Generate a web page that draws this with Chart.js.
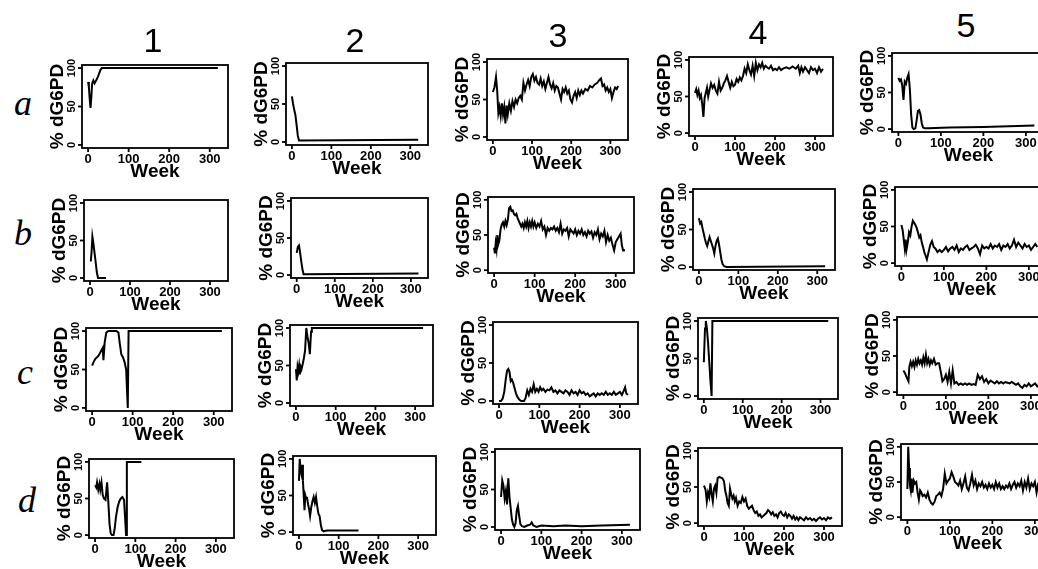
<!DOCTYPE html>
<html>
<head>
<meta charset="utf-8">
<script src="https://cdn.jsdelivr.net/npm/chart.js@4/dist/chart.umd.min.js"></script>
<style>
  html, body { margin: 0; padding: 0; background: #fff; }
  #page { position: relative; width: 1038px; height: 569px; overflow: hidden; background: #fff; }
  #page canvas { position: absolute; }
  .colhead { position: absolute; transform: translate(-50%, -50%); font: 34px "Liberation Sans", Arial, sans-serif; color: #000; }
  .rowhead { position: absolute; transform: translate(-50%, -50%); font: italic 36px "Liberation Serif", "Times New Roman", serif; color: #000; }
</style>
</head>
<body>
<div id="page"></div>
<script>
// tick labels shared by every panel
const xTicks = [0, 100, 200, 300];
const yTicks = [0, 50, 100];
const columns = ["1", "2", "3", "4", "5"];
const rows = ["a", "b", "c", "d"];

// % dG6PD by week, one pair of arrays per panel
const a1Weeks = [0, 2, 4, 6, 8, 10, 13, 16, 19, 22, 25, 28, 31, 34, 38, 320];
const a1Values = [82, 75, 60, 48, 62, 80, 84, 80, 83, 86, 90, 94, 98, 100, 100, 100];
const a2Weeks = [0, 3, 6, 9, 12, 15, 18, 22, 320];
const a2Values = [60, 50, 42, 35, 22, 8, 2, 2, 3];
const a3Weeks = [0, 4, 8, 11, 14, 17, 20, 23, 26, 29, 32, 35, 38, 42, 46, 50, 54, 58, 62, 66, 70, 74, 78, 82, 86, 90, 94, 98, 102, 106, 110, 114, 118, 122, 126, 130, 134, 138, 142, 146, 150, 154, 158, 162, 166, 170, 174, 178, 182, 186, 190, 194, 198, 202, 206, 210, 214, 218, 222, 226, 230, 236, 242, 248, 254, 260, 266, 272, 276, 280, 284, 288, 292, 296, 300, 304, 308, 312, 316, 320];
const a3Values = [60, 66, 80, 62, 32, 40, 28, 45, 30, 40, 18, 42, 30, 45, 35, 48, 40, 50, 45, 52, 55, 50, 72, 62, 70, 76, 68, 80, 84, 75, 80, 72, 70, 78, 68, 74, 64, 72, 80, 70, 65, 72, 62, 68, 66, 58, 50, 64, 60, 66, 58, 62, 50, 46, 55, 60, 52, 62, 56, 62, 58, 64, 62, 68, 66, 70, 72, 76, 78, 68, 70, 62, 66, 60, 64, 52, 60, 66, 64, 68];
const a4Weeks = [0, 3, 6, 9, 12, 15, 18, 21, 24, 27, 30, 33, 36, 40, 44, 48, 52, 56, 60, 64, 68, 72, 76, 80, 84, 88, 92, 96, 100, 104, 108, 112, 116, 120, 124, 128, 132, 136, 140, 144, 148, 152, 156, 160, 164, 168, 172, 176, 180, 185, 190, 195, 200, 205, 210, 215, 220, 228, 236, 244, 252, 258, 262, 266, 270, 275, 280, 285, 290, 295, 300, 305, 310, 315, 320];
const a4Values = [55, 60, 52, 58, 48, 52, 40, 22, 48, 55, 62, 50, 58, 68, 62, 66, 58, 54, 70, 58, 62, 68, 72, 78, 70, 62, 70, 64, 66, 74, 70, 76, 72, 78, 88, 82, 94, 86, 80, 92, 78, 96, 86, 94, 90, 96, 88, 92, 90, 88, 92, 86, 88, 86, 90, 86, 88, 90, 88, 91, 88, 92, 82, 90, 84, 90, 86, 82, 90, 86, 88, 82, 90, 84, 88];
const a5Weeks = [0, 3, 6, 9, 12, 15, 18, 21, 24, 27, 30, 33, 36, 40, 43, 46, 49, 52, 55, 58, 62, 70, 120, 200, 260, 320];
const a5Values = [70, 66, 68, 60, 40, 65, 62, 70, 75, 55, 20, 2, 0, 1, 12, 25, 26, 20, 8, 2, 1, 1, 2, 3, 4, 5];

const b1Weeks = [2, 4, 6, 8, 11, 14, 17, 20, 40];
const b1Values = [22, 35, 55, 48, 35, 22, 8, 0, 0];
const b2Weeks = [0, 3, 6, 9, 12, 15, 18, 22, 320];
const b2Values = [30, 38, 40, 30, 18, 8, 1, 1, 2];
const b3Weeks = [0, 2, 4, 6, 8, 10, 13, 16, 19, 22, 25, 28, 31, 34, 37, 40, 43, 46, 49, 52, 55, 58, 61, 64, 67, 70, 73, 76, 79, 82, 85, 88, 91, 94, 97, 100, 104, 108, 112, 116, 120, 124, 128, 132, 136, 140, 144, 148, 152, 156, 160, 164, 168, 172, 176, 180, 184, 188, 192, 196, 200, 204, 208, 212, 216, 220, 224, 228, 232, 236, 240, 244, 248, 252, 256, 260, 264, 268, 272, 276, 280, 284, 288, 292, 296, 300, 304, 308, 312, 315, 318, 320];
const b3Values = [32, 24, 38, 30, 50, 36, 42, 58, 65, 68, 62, 70, 64, 72, 88, 90, 84, 85, 80, 78, 80, 74, 70, 66, 62, 66, 60, 68, 62, 70, 60, 68, 62, 70, 62, 68, 60, 66, 62, 70, 58, 62, 50, 60, 56, 60, 58, 62, 56, 60, 54, 66, 52, 58, 56, 60, 48, 58, 55, 52, 58, 50, 56, 52, 58, 50, 54, 48, 56, 52, 55, 46, 54, 50, 58, 44, 52, 48, 56, 40, 50, 42, 46, 36, 28, 40, 44, 48, 52, 36, 28, 30];
const b4Weeks = [0, 3, 6, 9, 12, 15, 18, 21, 24, 27, 30, 33, 36, 39, 42, 45, 48, 51, 54, 57, 60, 64, 70, 320];
const b4Values = [65, 58, 60, 52, 45, 38, 32, 28, 34, 40, 35, 30, 25, 18, 28, 35, 38, 30, 20, 10, 4, 1, 0, 1];
const b5Weeks = [0, 3, 6, 8, 10, 12, 15, 18, 21, 24, 27, 30, 33, 36, 39, 42, 45, 48, 51, 54, 57, 60, 64, 68, 72, 76, 80, 85, 90, 95, 100, 105, 110, 115, 120, 125, 130, 135, 140, 145, 150, 155, 160, 165, 170, 175, 180, 185, 190, 195, 200, 205, 210, 215, 220, 225, 230, 235, 240, 245, 250, 255, 260, 265, 270, 275, 280, 285, 290, 295, 300, 305, 310, 315, 320];
const b5Values = [52, 45, 30, 20, 32, 18, 28, 42, 38, 50, 58, 55, 52, 48, 42, 35, 38, 28, 22, 15, 10, 5, 15, 25, 30, 22, 20, 15, 18, 15, 18, 22, 16, 20, 22, 18, 24, 15, 20, 18, 22, 24, 18, 20, 22, 25, 20, 12, 24, 20, 22, 20, 26, 20, 24, 22, 26, 18, 24, 22, 26, 20, 24, 32, 22, 28, 24, 20, 26, 22, 24, 18, 22, 26, 22];

const c1Weeks = [0, 4, 8, 12, 16, 20, 23, 26, 28, 31, 35, 40, 50, 60, 65, 68, 72, 76, 80, 84, 88, 90, 320];
const c1Values = [55, 60, 64, 66, 68, 72, 75, 78, 62, 85, 98, 100, 100, 100, 98, 85, 70, 66, 60, 50, 0, 100, 100];
const c2Weeks = [0, 2, 4, 6, 8, 10, 12, 14, 17, 20, 23, 26, 29, 32, 35, 38, 40, 320];
const c2Values = [45, 30, 48, 42, 50, 38, 48, 45, 52, 60, 70, 100, 88, 80, 65, 95, 100, 100];
const c3Weeks = [0, 5, 9, 13, 17, 20, 23, 26, 29, 32, 35, 38, 42, 46, 50, 55, 62, 66, 70, 74, 78, 82, 86, 90, 94, 98, 102, 106, 110, 115, 120, 125, 130, 135, 140, 145, 150, 155, 160, 165, 170, 175, 180, 185, 190, 195, 200, 205, 210, 215, 220, 225, 230, 235, 240, 245, 250, 255, 260, 265, 270, 275, 280, 285, 290, 295, 300, 305, 310, 313, 316, 320];
const c3Values = [0, 0, 3, 12, 30, 40, 42, 38, 26, 28, 24, 18, 10, 5, 2, 0, 0, 4, 14, 8, 16, 12, 22, 12, 16, 12, 18, 14, 16, 12, 15, 14, 18, 12, 14, 10, 14, 12, 10, 14, 12, 8, 14, 10, 12, 8, 14, 10, 12, 8, 10, 6, 8, 10, 6, 10, 8, 10, 8, 12, 8, 10, 8, 12, 8, 10, 12, 8, 14, 18, 10, 8];
const c4Weeks = [0, 3, 5, 8, 11, 14, 17, 20, 22, 320];
const c4Values = [45, 90, 100, 90, 70, 45, 20, 0, 100, 100];
const c5Weeks = [0, 4, 8, 12, 14, 17, 20, 23, 26, 29, 32, 35, 38, 41, 44, 47, 50, 53, 56, 59, 62, 65, 68, 72, 76, 80, 84, 88, 92, 96, 100, 104, 108, 112, 116, 120, 125, 130, 135, 140, 145, 150, 155, 160, 165, 170, 175, 180, 185, 190, 195, 200, 205, 210, 215, 220, 225, 230, 235, 240, 245, 250, 255, 260, 265, 270, 275, 280, 285, 290, 295, 300, 305, 310, 315, 320];
const c5Values = [30, 26, 20, 15, 35, 42, 36, 42, 35, 44, 38, 46, 40, 44, 38, 48, 40, 52, 40, 46, 38, 44, 40, 46, 38, 40, 40, 28, 15, 18, 24, 14, 28, 12, 30, 12, 14, 10, 12, 10, 12, 10, 12, 10, 11, 10, 24, 18, 22, 14, 18, 12, 16, 14, 12, 15, 12, 14, 12, 14, 13, 12, 14, 12, 10, 12, 8, 6, 10, 8, 12, 8, 10, 12, 8, 10];

const d1Weeks = [0, 3, 5, 8, 11, 13, 16, 19, 22, 26, 30, 33, 36, 39, 42, 46, 49, 52, 56, 60, 64, 68, 72, 75, 77, 79, 115];
const d1Values = [68, 65, 72, 62, 70, 62, 72, 55, 50, 48, 72, 45, 15, 2, 0, 0, 10, 25, 38, 46, 50, 52, 48, 20, 0, 100, 100];
const d2Weeks = [0, 2, 4, 6, 8, 10, 12, 14, 16, 18, 20, 23, 26, 28, 31, 34, 37, 40, 43, 46, 49, 52, 55, 58, 62, 70, 150];
const d2Values = [70, 100, 85, 80, 92, 70, 50, 30, 50, 46, 48, 38, 30, 22, 34, 42, 48, 40, 48, 35, 25, 22, 10, 3, 1, 2, 2];
const d3Weeks = [0, 3, 6, 9, 12, 15, 18, 21, 24, 27, 30, 33, 36, 39, 42, 45, 48, 52, 58, 65, 72, 76, 80, 88, 100, 130, 160, 200, 250, 320];
const d3Values = [40, 62, 55, 38, 48, 30, 65, 40, 25, 10, 3, 0, 5, 22, 28, 15, 4, 1, 0, 2, 3, 6, 2, 0, 2, 1, 2, 1, 2, 3];
const d4Weeks = [0, 4, 7, 10, 13, 16, 19, 22, 25, 28, 31, 34, 38, 42, 46, 50, 53, 56, 59, 62, 65, 68, 71, 74, 77, 80, 84, 88, 92, 96, 100, 104, 108, 112, 116, 120, 124, 128, 132, 136, 140, 144, 148, 152, 156, 160, 164, 168, 172, 176, 180, 184, 188, 192, 196, 200, 204, 208, 212, 216, 220, 224, 228, 232, 236, 240, 245, 250, 255, 260, 265, 270, 275, 280, 285, 290, 295, 300, 305, 310, 315, 320];
const d4Values = [52, 46, 30, 42, 36, 55, 40, 30, 48, 52, 42, 62, 64, 63, 62, 58, 45, 38, 28, 24, 48, 40, 34, 38, 30, 35, 24, 30, 28, 36, 30, 34, 24, 20, 22, 24, 18, 14, 16, 10, 12, 8, 10, 12, 14, 18, 16, 12, 15, 10, 12, 8, 14, 16, 12, 10, 14, 8, 12, 10, 6, 10, 5, 8, 4, 8, 6, 4, 8, 5, 7, 4, 6, 3, 6, 8, 5, 7, 4, 8, 6, 8];
const d5Weeks = [0, 2, 4, 6, 8, 10, 12, 15, 18, 21, 24, 27, 30, 33, 36, 40, 44, 48, 52, 56, 60, 64, 68, 72, 76, 80, 84, 88, 92, 96, 100, 104, 108, 112, 116, 120, 124, 128, 132, 136, 140, 144, 148, 152, 156, 160, 164, 168, 172, 176, 180, 184, 188, 192, 196, 200, 204, 208, 212, 216, 220, 224, 228, 232, 236, 240, 244, 248, 252, 256, 260, 264, 268, 272, 276, 280, 284, 288, 292, 296, 300, 304, 308, 312, 316, 320];
const d5Values = [40, 100, 70, 45, 38, 55, 35, 52, 48, 50, 35, 25, 38, 35, 30, 32, 28, 35, 25, 20, 18, 22, 30, 32, 35, 30, 40, 62, 48, 52, 55, 64, 58, 50, 48, 45, 52, 40, 48, 58, 42, 38, 48, 60, 45, 52, 40, 48, 44, 50, 42, 46, 40, 48, 42, 46, 40, 50, 42, 48, 40, 44, 40, 45, 42, 48, 40, 46, 50, 42, 48, 44, 52, 38, 50, 42, 55, 40, 48, 44, 50, 35, 48, 52, 42, 45];

const series = {
  a1: [a1Weeks, a1Values], a2: [a2Weeks, a2Values], a3: [a3Weeks, a3Values], a4: [a4Weeks, a4Values], a5: [a5Weeks, a5Values],
  b1: [b1Weeks, b1Values], b2: [b2Weeks, b2Values], b3: [b3Weeks, b3Values], b4: [b4Weeks, b4Values], b5: [b5Weeks, b5Values],
  c1: [c1Weeks, c1Values], c2: [c2Weeks, c2Values], c3: [c3Weeks, c3Values], c4: [c4Weeks, c4Values], c5: [c5Weeks, c5Values],
  d1: [d1Weeks, d1Values], d2: [d2Weeks, d2Values], d3: [d3Weeks, d3Values], d4: [d4Weeks, d4Values], d5: [d5Weeks, d5Values],
};

// plot box of each panel on the page: left, top, right, bottom (the scan is slightly skewed)
const boxes = {
  a1: [82, 65, 228, 148], a2: [286, 63, 428, 145], a3: [487, 59, 628, 140], a4: [689, 57, 833, 136], a5: [892, 53, 1045, 132],
  b1: [84, 200, 228, 281], b2: [291, 198, 428, 278], b3: [488, 197, 634, 273], b4: [693, 189, 835, 270], b5: [895, 187, 1048, 266],
  c1: [86, 328, 232, 411], c2: [290, 325, 433, 406], c3: [493, 322, 638, 404], c4: [698, 318, 838, 399], c5: [897, 317, 1050, 395],
  d1: [89, 459, 234, 538], d2: [293, 456, 436, 535], d3: [495, 449, 640, 530], d4: [698, 448, 842, 526], d5: [901, 444, 1054, 520],
};
const colHeadPos = [[153, 40], [355, 40], [558, 35], [758, 32], [966, 25]];
const rowHeadPos = [[23, 103], [23, 233], [25, 372], [27, 500]];

const ink = "#000";
const pad = { left: 50, top: 8, right: 8, bottom: 36 };
const page = document.getElementById("page");

// R-style box, ticks and labels, placed with the chart's own scales
const rAxes = {
  id: "rAxes",
  afterDraw(chart) {
    const { ctx, chartArea: area, scales } = chart;
    const line = (x1, y1, x2, y2) => { ctx.beginPath(); ctx.moveTo(x1, y1); ctx.lineTo(x2, y2); ctx.stroke(); };
    ctx.save();
    ctx.strokeStyle = ink;
    ctx.fillStyle = ink;
    ctx.lineWidth = 1.8;
    ctx.strokeRect(area.left, area.top, area.right - area.left, area.bottom - area.top);
    ctx.textAlign = "center";
    ctx.textBaseline = "middle";
    ctx.font = "bold 13px 'Liberation Sans', Arial, sans-serif";
    xTicks.forEach((v) => {
      const px = scales.x.getPixelForValue(v);
      line(px, area.bottom, px, area.bottom + 4);
      ctx.fillText(String(v), px, area.bottom + 11);
    });
    ctx.font = "bold 11px 'Liberation Sans', Arial, sans-serif";
    yTicks.forEach((v) => {
      const py = scales.y.getPixelForValue(v);
      line(area.left - 4, py, area.left, py);
      ctx.save();
      ctx.translate(area.left - 10, py);
      ctx.rotate(-Math.PI / 2);
      ctx.fillText(String(v), 0, 0);
      ctx.restore();
    });
    ctx.font = "bold 19px 'Liberation Sans', Arial, sans-serif";
    ctx.fillText("Week", (area.left + area.right) / 2, area.bottom + 24);
    ctx.save();
    ctx.translate(area.left - 24, (area.top + area.bottom) / 2);
    ctx.rotate(-Math.PI / 2);
    ctx.fillText("% dG6PD", 0, 0);
    ctx.restore();
    ctx.restore();
  },
};

Object.keys(series).forEach((id) => {
  const [weeks, values] = series[id];
  const [left, top, right, bottom] = boxes[id];
  const canvas = document.createElement("canvas");
  const w = right - left + pad.left + pad.right;
  const h = bottom - top + pad.top + pad.bottom;
  canvas.width = w;
  canvas.height = h;
  canvas.style.left = left - pad.left + "px";
  canvas.style.top = top - pad.top + "px";
  canvas.style.width = w + "px";
  canvas.style.height = h + "px";
  page.appendChild(canvas);
  const points = weeks.slice(0, values.length).map((week, i) => ({ x: week, y: values[i] }));
  new Chart(canvas, {
    type: "line",
    data: { datasets: [{ data: points, borderColor: ink, borderWidth: 2, pointRadius: 0, tension: 0, fill: false }] },
    options: {
      responsive: false,
      animation: false,
      events: [],
      layout: { padding: pad },
      plugins: { legend: { display: false }, tooltip: { enabled: false } },
      scales: {
        x: { type: "linear", min: -15, max: 345, display: false },
        y: { type: "linear", min: -4, max: 104, display: false },
      },
    },
    plugins: [rAxes],
  });
});

columns.forEach((label, i) => {
  const div = document.createElement("div");
  div.className = "colhead";
  div.textContent = label;
  div.style.left = colHeadPos[i][0] + "px";
  div.style.top = colHeadPos[i][1] + "px";
  page.appendChild(div);
});
rows.forEach((label, i) => {
  const div = document.createElement("div");
  div.className = "rowhead";
  div.textContent = label;
  div.style.left = rowHeadPos[i][0] + "px";
  div.style.top = rowHeadPos[i][1] + "px";
  page.appendChild(div);
});
</script>
</body>
</html>
